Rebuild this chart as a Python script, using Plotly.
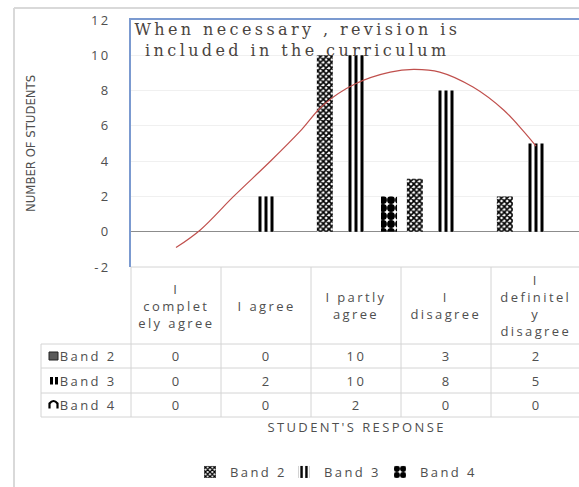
import plotly.graph_objects as go

# ---- data -------------------------------------------------------------
categories = ["I completely agree", "I agree", "I partly agree",
              "I disagree", "I definitely disagree"]
header_labels = ["I<br>complet<br>ely agree", "I agree", "I partly<br>agree",
                 "I<br>disagree", "I<br>definitel<br>y<br>disagree"]
series_names = ["Band 2", "Band 3", "Band 4"]
band2 = [0, 0, 10, 3, 2]
band3 = [0, 2, 10, 8, 5]
band4 = [0, 0, 2, 0, 0]
y_ticks = [-2, 0, 2, 4, 6, 8, 10, 12]

# polynomial trend curve, sampled along the category axis (0 = first category)
trend_pos = [0.0, 0.27, 0.64, 1.06, 1.38, 1.64, 2.0, 2.38, 2.64, 2.93, 3.3, 3.64, 3.86, 4.0]
trend_val = [-0.9, 0.1, 2.0, 4.05, 5.7, 7.2, 8.4, 9.05, 9.2, 9.05, 8.2, 6.9, 5.7, 4.85]

chart_title = "When necessary , revision is<br>included in the curriculum"
y_title = "NUMBER OF STUDENTS"
x_title = "STUDENT'S RESPONSE"

# ---- geometry ---------------------------------------------------------
W, H = 579, 487
L, R, T, B = 131, 0, 20, 220
PW = W - L - R
PH = H - T - B
CAT_PX = 90.0

GREY_TXT = "#4f4f4f"
SANS = "Open Sans"


def px_x(px):
    return (px - L) / PW


def px_y(py):
    return (H - B - py) / PH


pos = list(range(len(categories)))
series = [band2, band3, band4]
bar_w = 0.178
offsets = [-0.435, -0.089, 0.278]
patterns = [
    dict(shape="x", size=4, solidity=0.65, fgcolor="#000000", bgcolor="#ffffff", fgopacity=1),
    dict(shape="|", size=6, solidity=0.5, fgcolor="#000000", bgcolor="#ffffff", fgopacity=1),
    dict(shape=".", size=8, solidity=0.75, fgcolor="#000000", bgcolor="#ffffff", fgopacity=1),
]
legend_ids = ["legend", "legend2", "legend3"]
legend_text_px = [228, 322, 418]

fig = go.Figure()
for name, vals, off, pat, lg in zip(series_names, series, offsets, patterns, legend_ids):
    fig.add_trace(go.Bar(
        x=pos, y=vals, name=name, offset=off, width=bar_w, legend=lg,
        marker=dict(color="#ffffff", pattern=pat, line=dict(width=0), opacity=1),
        hoverinfo="skip",
    ))

fig.add_trace(go.Scatter(
    x=trend_pos, y=trend_val, mode="lines", showlegend=False,
    line=dict(color="#c0504d", width=1.2, shape="spline", smoothing=1.0),
    hoverinfo="skip",
))

# ---- annotations ------------------------------------------------------
ann = []
ann.append(dict(text=chart_title, x=px_x(297), y=px_y(40), xref="paper", yref="paper",
                xanchor="center", yanchor="middle", showarrow=False, align="center",
                font=dict(family="DejaVu Serif", size=16, color="#4a4440")))
ann.append(dict(text=y_title, x=px_x(30), y=px_y(144), xref="paper", yref="paper",
                xanchor="center", yanchor="middle", showarrow=False, textangle=-90,
                font=dict(family="DejaVu Sans Condensed", size=13, color=GREY_TXT)))
ann.append(dict(text=x_title, x=px_x(356), y=px_y(427), xref="paper", yref="paper",
                xanchor="center", yanchor="middle", showarrow=False,
                font=dict(family=SANS, size=13, color=GREY_TXT)))

# header row of the data table
for i, lab in enumerate(header_labels):
    ann.append(dict(text=lab, x=pos[i], y=px_y(305.5), xref="x", yref="paper",
                    xanchor="center", yanchor="middle", showarrow=False, align="center",
                    font=dict(family=SANS, size=13, color=GREY_TXT)))

row_centers = [356, 380.5, 405]
for r, (name, vals) in enumerate(zip(series_names, series)):
    ann.append(dict(text=name, x=px_x(65), y=px_y(row_centers[r]), xref="paper", yref="paper",
                    xanchor="left", yanchor="middle", showarrow=False,
                    font=dict(family=SANS, size=13, color=GREY_TXT)))
    for i, v in enumerate(vals):
        ann.append(dict(text=str(v), x=pos[i], y=px_y(row_centers[r]), xref="x", yref="paper",
                        xanchor="center", yanchor="middle", showarrow=False,
                        font=dict(family=SANS, size=13, color=GREY_TXT)))

# ---- shapes: chart frame and data-table grid --------------------------
TBL = "#d4d4d4"
shapes = []


def hline(y, x0, x1, color=TBL, w=1):
    shapes.append(dict(type="line", xref="paper", yref="paper",
                       x0=px_x(x0), x1=px_x(x1), y0=px_y(y), y1=px_y(y),
                       line=dict(color=color, width=w)))


def vline(x, y0, y1, color=TBL, w=1):
    shapes.append(dict(type="line", xref="paper", yref="paper",
                       x0=px_x(x), x1=px_x(x), y0=px_y(y0), y1=px_y(y1),
                       line=dict(color=color, width=w)))


# outer chart border
vline(14, 8, H + 2, color="#d9d9d9", w=2)
hline(8, 14, W + 2, color="#d9d9d9", w=2)

# table grid
hline(267, L, W + 2)
for yy in [344, 368, 393, 417]:
    hline(yy, 41, W + 2)
vline(41, 344, 417)
for k in range(len(categories)):
    vline(L + CAT_PX * k, 267, 417)

# small legend keys in the row-label cells
shapes.append(dict(type="rect", xref="paper", yref="paper",
                   x0=px_x(49), x1=px_x(58), y0=px_y(360), y1=px_y(352),
                   fillcolor="#5a5a5a", line=dict(color="#222222", width=1)))
for bx in (50, 55):
    shapes.append(dict(type="rect", xref="paper", yref="paper",
                       x0=px_x(bx), x1=px_x(bx + 3), y0=px_y(384.5), y1=px_y(377),
                       fillcolor="#000000", line=dict(width=0)))
shapes.append(dict(type="path", xref="paper", yref="paper",
                   path="M {a},{b} L {a},{c} Q {d},{e} {f},{c} L {f},{b}".format(
                       a=px_x(49.5), b=px_y(408.5), c=px_y(403.5),
                       d=px_x(53.5), e=px_y(398.5), f=px_x(57.5)),
                   line=dict(color="#000000", width=2.2)))

legend_style = dict(orientation="h", xanchor="left", yanchor="middle",
                    y=px_y(472), bgcolor="rgba(0,0,0,0)",
                    entrywidth=70, entrywidthmode="pixels",
                    font=dict(family=SANS, size=13, color=GREY_TXT))
legends = {}
for lg, tx in zip(legend_ids, legend_text_px):
    legends[lg] = dict(legend_style, x=px_x(tx - 38))

fig.update_layout(
    width=W, height=H,
    margin=dict(l=L, r=R, t=T, b=B, pad=0, autoexpand=False),
    paper_bgcolor="#ffffff", plot_bgcolor="#ffffff",
    barmode="overlay",
    showlegend=True,
    xaxis=dict(range=[-0.5, -0.5 + PW / CAT_PX], showgrid=False, zeroline=False,
               showticklabels=False, ticks="", side="top",
               showline=True, linecolor="#7b9ad0", linewidth=1.5, fixedrange=True),
    yaxis=dict(range=[-2, 12], tickvals=y_ticks, ticktext=[str(t) for t in y_ticks],
               showgrid=True, gridcolor="#f0f0f0", gridwidth=1,
               zeroline=True, zerolinecolor="#8c8c8c", zerolinewidth=1,
               showline=True, linecolor="#7b9ad0", linewidth=1.5, ticks="",
               ticklabelstandoff=16,
               tickfont=dict(family=SANS, size=13, color=GREY_TXT), fixedrange=True),
    annotations=ann,
    shapes=shapes,
    **legends,
)

# widen the letter spacing of the horizontal labels
spacing_js = """
var st = document.createElement('style');
st.textContent = '.js-plotly-plot svg text{letter-spacing:2.4px}' +
  '.js-plotly-plot g.annotation[data-index="0"] text{letter-spacing:3.4px}' +
  '.js-plotly-plot g.annotation[data-index="1"] text{letter-spacing:0px}';
document.head.appendChild(st);
"""

fig.write_html("out.html", post_script=spacing_js, config={"displayModeBar": False})
